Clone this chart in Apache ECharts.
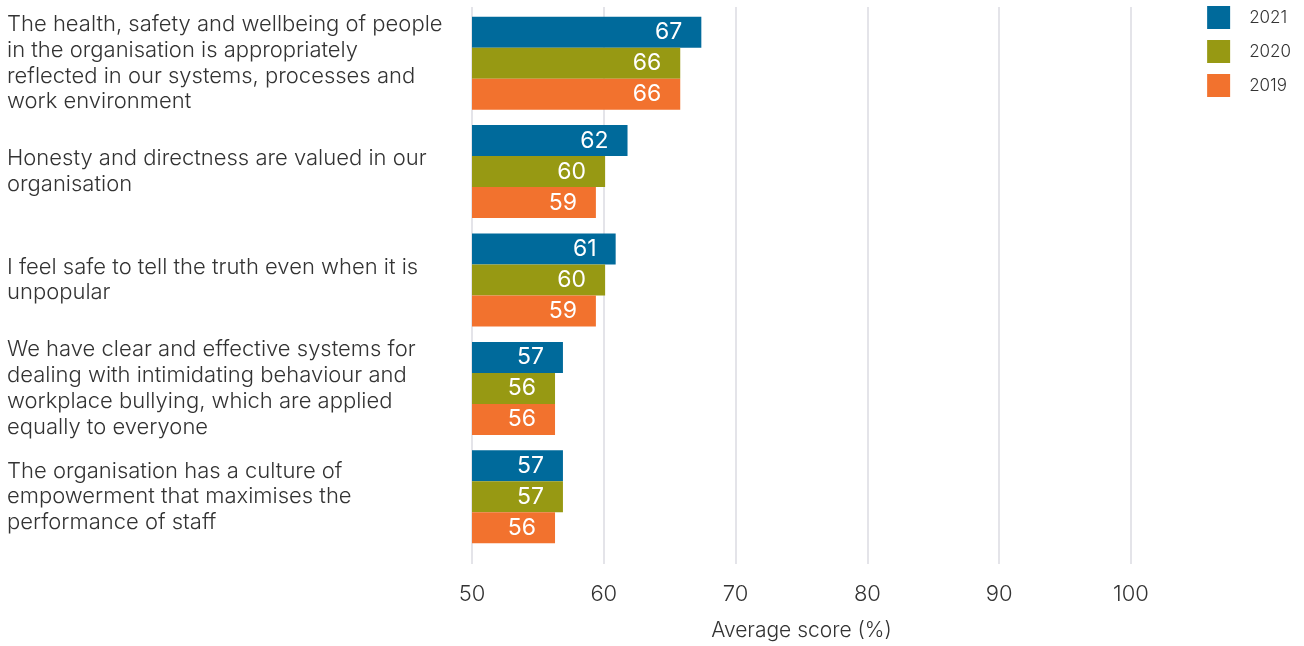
<!DOCTYPE html>
<html>
<head>
<meta charset="utf-8">
<script src="https://cdn.jsdelivr.net/npm/echarts@6/dist/echarts.min.js"></script>
<style>
html,body{margin:0;padding:0;background:#fff;}
#chart{width:1304px;height:646px;}
</style>
</head>
<body>
<div id="chart"></div>
<script>
const categories = [
  "The health, safety and wellbeing of people\nin the organisation is appropriately\nreflected in our systems, processes and\nwork environment",
  "Honesty and directness are valued in our\norganisation",
  "I feel safe to tell the truth even when it is\nunpopular",
  "We have clear and effective systems for\ndealing with intimidating behaviour and\nworkplace bullying, which are applied\nequally to everyone",
  "The organisation has a culture of\nempowerment that maximises the\nperformance of staff"
];
const seriesNames = ["2021", "2020", "2019"];
const values2021 = [67.4, 61.8, 60.9, 56.9, 56.9];
const values2020 = [65.8, 60.1, 60.1, 56.3, 56.9];
const values2019 = [65.8, 59.4, 59.4, 56.3, 56.3];
const xTicks = [50, 60, 70, 80, 90, 100];
const axisTitle = "Average score (%)";

const colors = ["#006a9b", "#979913", "#f2722e"];
const allValues = [values2021, values2020, values2019];
const FONT = "Inter, 'Open Sans', sans-serif";

const chart = echarts.init(document.getElementById('chart'), null, {renderer: 'canvas'});
chart.setOption({
  animation: false,
  color: colors,
  textStyle: {fontFamily: FONT},
  legend: {
    orient: 'vertical',
    right: 8,
    top: 1,
    icon: 'rect',
    itemWidth: 23,
    itemHeight: 23,
    itemGap: 11,
    textStyle: {fontSize: 17, color: '#333', fontFamily: FONT, fontWeight: 300, padding: [0, 0, 0, 14]},
    data: seriesNames
  },
  grid: [
    {left: 472, right: 173, top: 7, bottom: 79},
    {left: 472, right: 173, top: 9, height: 542}
  ],
  xAxis: [
    {
      gridIndex: 0, type: 'value', min: xTicks[0], max: xTicks[xTicks.length - 1], interval: 10,
      axisLine: {show: false}, axisTick: {show: false},
      splitLine: {show: true, lineStyle: {color: '#e4e4e9', width: 2}},
      axisLabel: {fontSize: 22, color: '#333', margin: 19, fontFamily: FONT, fontWeight: 300},
      name: axisTitle, nameLocation: 'middle', nameGap: 56,
      nameTextStyle: {fontSize: 21, color: '#333', fontFamily: FONT, fontWeight: 300}
    },
    {
      gridIndex: 1, type: 'value', min: xTicks[0], max: xTicks[xTicks.length - 1],
      show: false, splitLine: {show: false}
    }
  ],
  yAxis: [
    {gridIndex: 0, type: 'category', data: categories, show: false},
    {
      gridIndex: 1, type: 'category', data: categories, inverse: true,
      axisLine: {show: false}, axisTick: {show: false},
      axisLabel: {
        align: 'left', margin: 465, fontSize: 22, lineHeight: 25.7, color: '#333',
        fontFamily: FONT, fontWeight: 300
      }
    }
  ],
  series: seriesNames.map((n, i) => ({
    name: n, type: 'bar', xAxisIndex: 1, yAxisIndex: 1,
    data: allValues[i], barWidth: 31, barGap: '0%',
    itemStyle: {color: colors[i]},
    label: {
      show: true, position: 'insideRight', distance: 19, color: '#fff',
      fontSize: 23, fontFamily: FONT, fontWeight: 400,
      formatter: p => Math.round(p.value)
    }
  }))
});
</script>
</body>
</html>
